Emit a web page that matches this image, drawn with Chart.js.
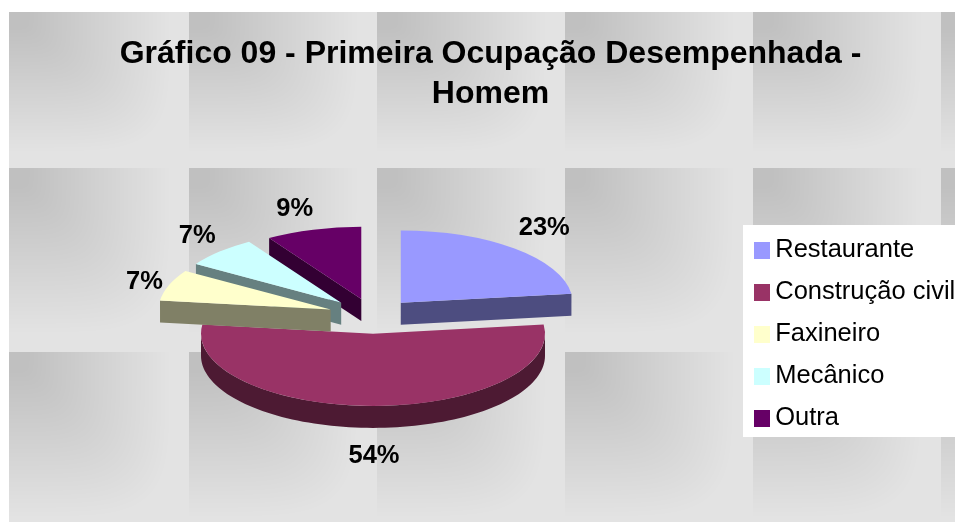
<!DOCTYPE html>
<html>
<head>
<meta charset="utf-8">
<style>html,body{margin:0;padding:0;background:#fff}canvas{display:block}</style>
<script src="https://cdn.jsdelivr.net/npm/chart.js@4/dist/chart.umd.min.js"></script>
</head>
<body>
<canvas id="c" width="955" height="522"></canvas>
<script>
const categories = ["Restaurante", "Construção civil", "Faxineiro", "Mecânico", "Outra"];
const shares = [23, 54, 7, 7, 9];
const titleLines = ["Gráfico 09 - Primeira Ocupação Desempenhada -", "Homem"];
const topColors = ["#9999FF", "#993366", "#FFFFCC", "#CCFFFF", "#660066"];
const wallColors = ["#4D4D80", "#4D1A33", "#808066", "#668080", "#330033"];

const FONT = "'Liberation Sans', Arial, sans-serif";
const CENTER = {x: 373, y: 316};
const RADIUS = 172, TILT = 0.42, DEPTH = 22;
const explodeBy = [42, 42, 45, 45, 42];
const paintOrder = [1, 0, 4, 3, 2];
const labelNudge = [[7, -10], [1, 36], [8, 2], [2, -5], [-9, -7]];
const tileXs = [9, 189, 377, 565, 753, 941, 1129];
const tileYs = [12, 168, 352, 536];

function squashY(y) { return CENTER.y + (y - CENTER.y) * TILT; }

function paintTile(ctx, x0, y0, w, h) {
  const off = document.createElement('canvas');
  off.width = w; off.height = h;
  const g = off.getContext('2d');
  const img = g.createImageData(w, h);
  const P = 5;
  for (let y = 0; y < h; y++) {
    for (let x = 0; x < w; x++) {
      const t = Math.pow(Math.pow(x / w, P) + Math.pow(y / h, P), 1 / P);
      const v = Math.round(0xC0 + (0xE3 - 0xC0) * Math.min(1, Math.max(0, (t - 0.1) / 0.8)));
      const k = (y * w + x) * 4;
      img.data[k] = img.data[k + 1] = img.data[k + 2] = v;
      img.data[k + 3] = 255;
    }
  }
  g.putImageData(img, 0, 0);
  ctx.drawImage(off, x0, y0);
}

function paintWalls(ctx, arc, color) {
  const px = (a, r) => arc.x + r * Math.cos(a);
  const py = (a, r) => squashY(arc.y + r * Math.sin(a));
  const R = arc.outerRadius;
  ctx.fillStyle = color;
  const quad = a => {
    ctx.beginPath();
    ctx.moveTo(arc.x, py(a, 0));
    ctx.lineTo(px(a, R), py(a, R));
    ctx.lineTo(px(a, R), py(a, R) + DEPTH);
    ctx.lineTo(arc.x, py(a, 0) + DEPTH);
    ctx.closePath();
    ctx.fill();
  };
  if (Math.cos(arc.startAngle) < 0) quad(arc.startAngle);
  if (Math.cos(arc.endAngle) > 0) quad(arc.endAngle);
  const from = Math.max(arc.startAngle, 0), to = Math.min(arc.endAngle, Math.PI);
  if (to > from) {
    ctx.beginPath();
    const n = 90;
    for (let i = 0; i <= n; i++) {
      const a = from + (to - from) * i / n;
      ctx.lineTo(px(a, R), py(a, R));
    }
    for (let i = n; i >= 0; i--) {
      const a = from + (to - from) * i / n;
      ctx.lineTo(px(a, R), py(a, R) + DEPTH);
    }
    ctx.closePath();
    ctx.fill();
  }
}

const pie3d = {
  id: 'pie3d',
  beforeDraw(chart) {
    const ctx = chart.ctx;
    ctx.save();
    ctx.fillStyle = '#fff';
    ctx.fillRect(0, 0, chart.width, chart.height);
    for (let r = 0; r < tileYs.length - 1; r++) {
      for (let c = 0; c < tileXs.length - 1; c++) {
        paintTile(ctx, tileXs[c], tileYs[r], tileXs[c + 1] - tileXs[c], tileYs[r + 1] - tileYs[r]);
      }
    }
    ctx.fillStyle = '#fff';
    ctx.fillRect(743, 225, 212, 212);
    ctx.restore();
  },
  afterLayout(chart) {
    const half = RADIUS + 45;
    Object.assign(chart.chartArea, {
      left: CENTER.x - half, right: CENTER.x + half,
      top: CENTER.y - half, bottom: CENTER.y + half,
      width: half * 2, height: half * 2
    });
    const t = chart.titleBlock;
    t.left = 0; t.right = 981; t.top = 32; t.bottom = 112;
    const l = chart.legend;
    l.left = 744; l.right = 955; l.top = 221; l.bottom = 522;
  },
  afterDatasetsUpdate(chart) {
    chart.getDatasetMeta(0).data.forEach((arc, i) => {
      const mid = (arc.startAngle + arc.endAngle) / 2;
      arc.x += Math.cos(mid) * explodeBy[i];
      arc.y += Math.sin(mid) * explodeBy[i];
    });
  },
  beforeDatasetDraw(chart, args) {
    const ctx = chart.ctx;
    paintOrder.forEach(i => {
      const arc = args.meta.data[i];
      paintWalls(ctx, arc, wallColors[i]);
      ctx.save();
      ctx.translate(0, CENTER.y);
      ctx.scale(1, TILT);
      ctx.translate(0, -CENTER.y);
      arc.draw(ctx);
      ctx.restore();
    });
    return false;
  },
  afterDatasetsDraw(chart) {
    const ctx = chart.ctx;
    const total = shares.reduce((a, b) => a + b, 0);
    ctx.save();
    ctx.font = `bold 25.5px ${FONT}`;
    ctx.fillStyle = '#000';
    ctx.textAlign = 'center';
    ctx.textBaseline = 'middle';
    chart.getDatasetMeta(0).data.forEach((arc, i) => {
      const mid = (arc.startAngle + arc.endAngle) / 2;
      const r = RADIUS * 1.2;
      const x = arc.x + r * Math.cos(mid) + labelNudge[i][0];
      const y = squashY(arc.y + r * Math.sin(mid)) + labelNudge[i][1];
      ctx.fillText(Math.round(shares[i] / total * 100) + '%', x, y);
    });
    ctx.restore();
  }
};

function swatch(color) {
  const s = document.createElement('canvas');
  s.width = 16; s.height = 17;
  const g = s.getContext('2d');
  g.fillStyle = color;
  g.fillRect(0, 0, 16, 17);
  return s;
}

new Chart(document.getElementById('c'), {
  type: 'pie',
  plugins: [pie3d],
  data: {
    labels: categories,
    datasets: [{
      data: shares,
      backgroundColor: topColors,
      borderWidth: 0,
      radius: RADIUS
    }]
  },
  options: {
    responsive: false,
    animation: false,
    events: [],
    plugins: {
      tooltip: {enabled: false},
      title: {
        display: true,
        text: titleLines,
        color: '#000',
        padding: 2,
        font: {family: FONT, size: 32, weight: 'bold', lineHeight: 1.25}
      },
      legend: {
        display: true,
        position: 'right',
        align: 'start',
        labels: {
          color: '#000',
          font: {family: FONT, size: 25.5},
          padding: 16.5,
          usePointStyle: true,
          pointStyleWidth: 2,
          boxHeight: 17,
          generateLabels(chart) {
            return Chart.overrides.doughnut.plugins.legend.labels.generateLabels(chart)
              .map((item, i) => Object.assign(item, {pointStyle: swatch(topColors[i])}));
          }
        }
      }
    }
  }
});
</script>
</body>
</html>
